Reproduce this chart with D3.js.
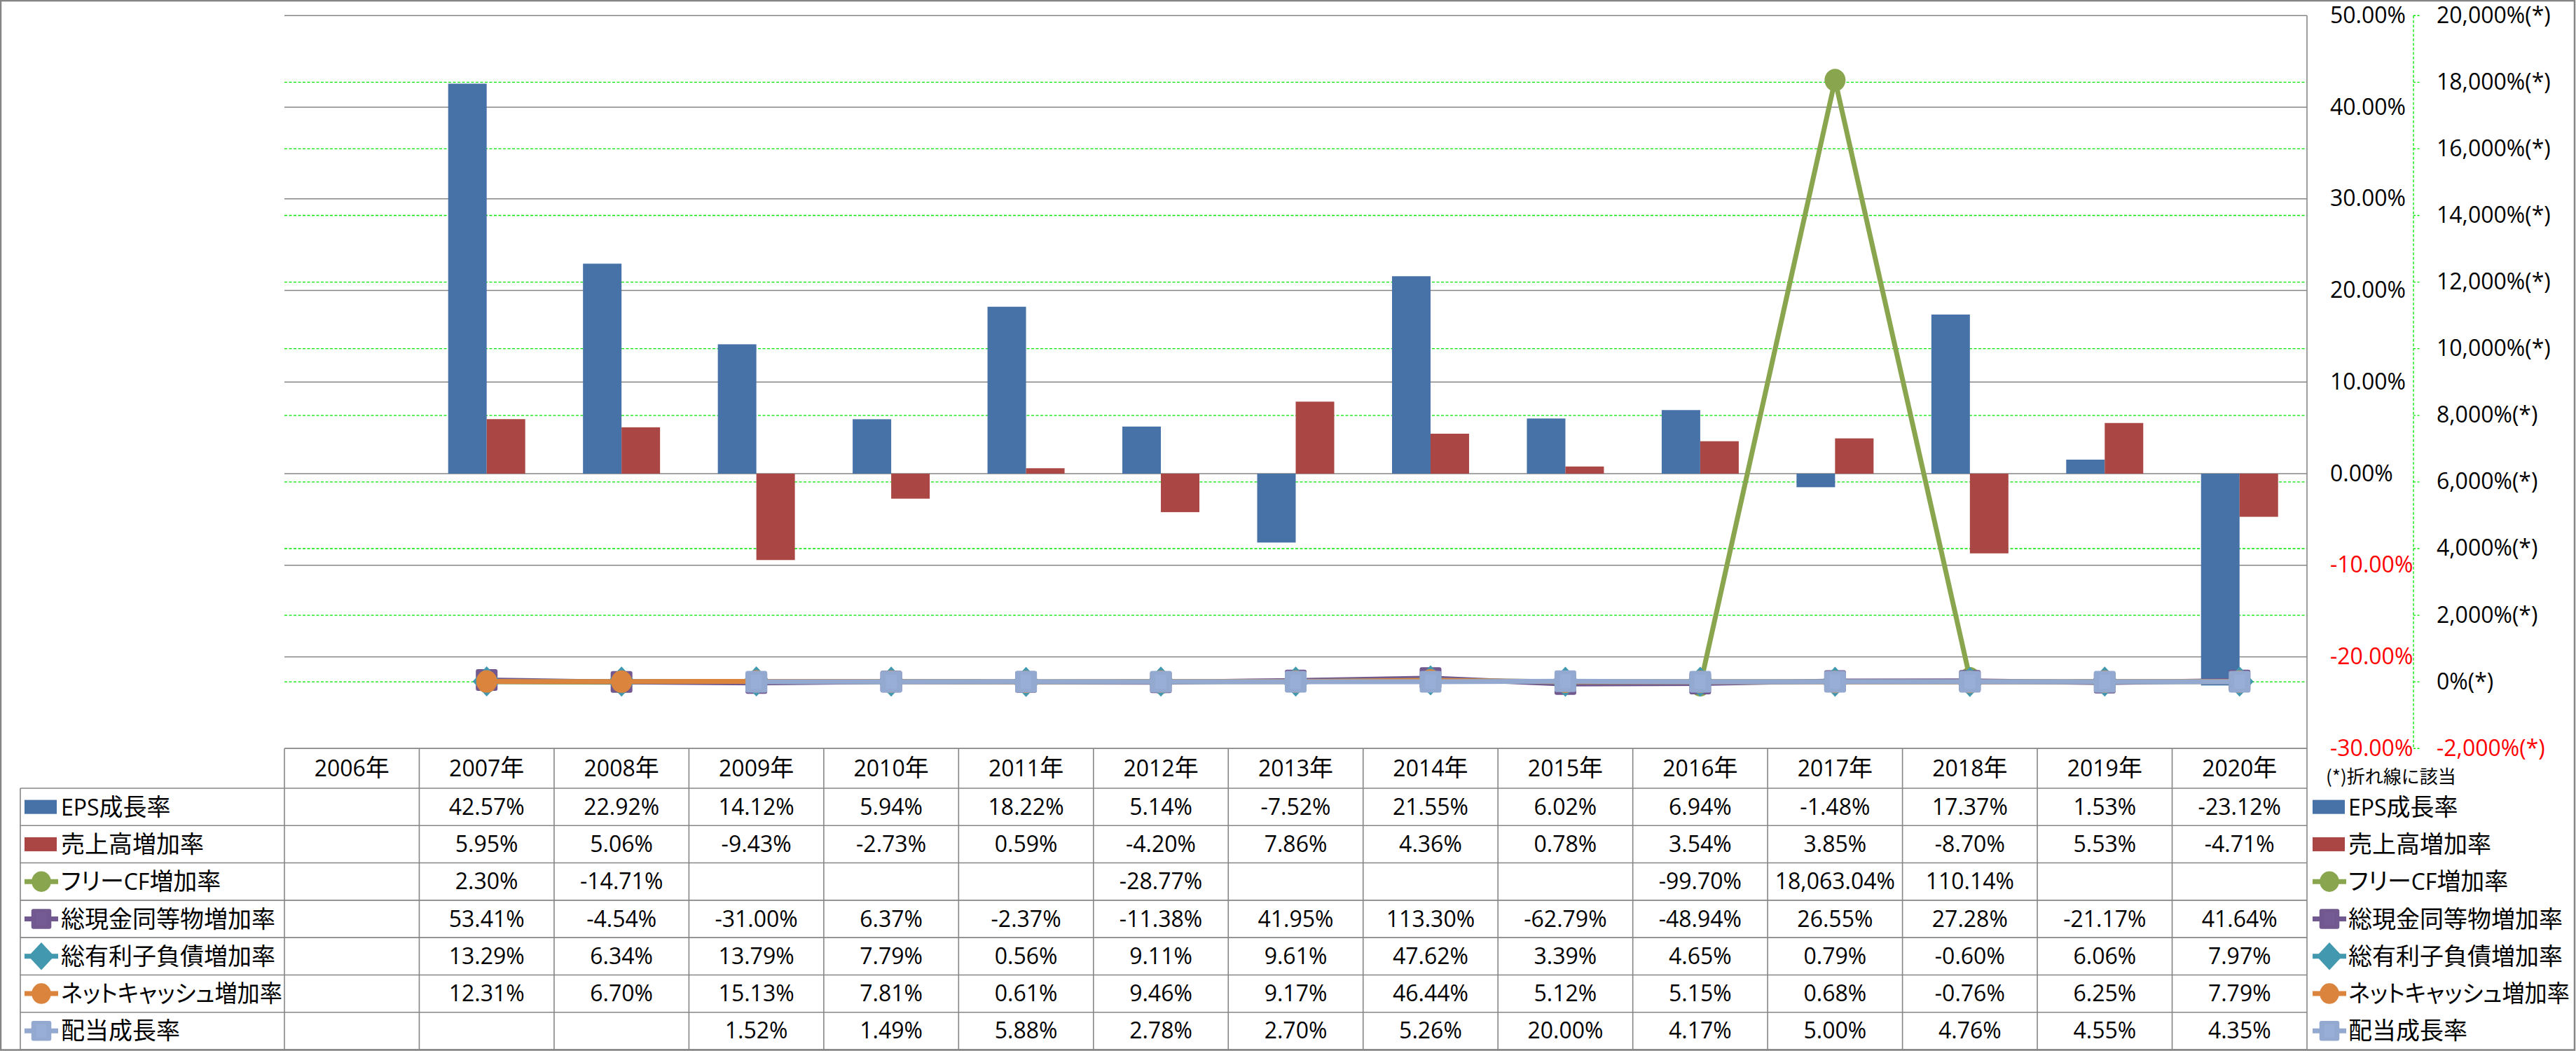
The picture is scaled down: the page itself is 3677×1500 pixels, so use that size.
<!DOCTYPE html>
<html><head><meta charset="utf-8">
<script src="https://cdn.jsdelivr.net/npm/d3@7"></script>
<style>
html,body{margin:0;padding:0;background:#fff;}
svg{display:block;}
</style></head>
<body>
<script>
// ---------- data ----------
const years = ['2006年','2007年','2008年','2009年','2010年','2011年','2012年','2013年','2014年','2015年','2016年','2017年','2018年','2019年','2020年'];
const epsGrowth   = [null, 42.57, 22.92, 14.12, 5.94, 18.22, 5.14, -7.52, 21.55, 6.02, 6.94, -1.48, 17.37, 1.53, -23.12];
const salesGrowth = [null, 5.95, 5.06, -9.43, -2.73, 0.59, -4.20, 7.86, 4.36, 0.78, 3.54, 3.85, -8.70, 5.53, -4.71];
const fcfGrowth   = [null, 2.30, -14.71, null, null, null, -28.77, null, null, null, -99.70, 18063.04, 110.14, null, null];
const cashGrowth  = [null, 53.41, -4.54, -31.00, 6.37, -2.37, -11.38, 41.95, 113.30, -62.79, -48.94, 26.55, 27.28, -21.17, 41.64];
const debtGrowth  = [null, 13.29, 6.34, 13.79, 7.79, 0.56, 9.11, 9.61, 47.62, 3.39, 4.65, 0.79, -0.60, 6.06, 7.97];
const netCashGrowth = [null, 12.31, 6.70, 15.13, 7.81, 0.61, 9.46, 9.17, 46.44, 5.12, 5.15, 0.68, -0.76, 6.25, 7.79];
const dividendGrowth = [null, null, null, 1.52, 1.49, 5.88, 2.78, 2.70, 5.26, 20.00, 4.17, 5.00, 4.76, 4.55, 4.35];

const primaryTicks = [50, 40, 30, 20, 10, 0, -10, -20, -30];
const secondaryTicks = [20000, 18000, 16000, 14000, 12000, 10000, 8000, 6000, 4000, 2000, 0, -2000];
const noteText = '(*)折れ線に該当';

const barSeries = [
  {name:'EPS成長率', values: epsGrowth, color:'#4672A8'},
  {name:'売上高増加率', values: salesGrowth, color:'#AA4643'}
];
const lineSeries = [
  {name:'フリーCF増加率', values: fcfGrowth, color:'#89A54E', marker:'circle'},
  {name:'総現金同等物増加率', values: cashGrowth, color:'#71588F', marker:'square'},
  {name:'総有利子負債増加率', values: debtGrowth, color:'#4198AF', marker:'diamond'},
  {name:'ネットキャッシュ増加率', values: netCashGrowth, color:'#DB843D', marker:'circle'},
  {name:'配当成長率', values: dividendGrowth, color:'#93A9CF', marker:'square'}
];

// ---------- layout ----------
const W = 3677, H = 1500;
const plotL = 406, plotR = 3293, plotT = 22.25, plotB = 1068.25;
const tableL = 29, headerB = 1125, tableB = 1498;
const LATIN = '"Open Sans", "Noto Sans CJK JP", sans-serif';
const CJK = '"Noto Sans CJK JP", sans-serif';
const latinSize = 32, cjkSize = 34;

const svg = d3.select('body').append('svg').attr('width', W).attr('height', H);

const x0 = d3.scaleBand().domain(years).range([plotL, plotR]).paddingInner(0.4286).paddingOuter(0.2143);
const x1 = d3.scaleBand().domain(barSeries.map(d=>d.name)).range([0, x0.bandwidth()]);
const y = d3.scaleLinear().domain([-30, 50]).range([plotB, plotT]);
const y2 = d3.scaleLinear().domain([-2000, 20000]).range([plotB, plotT]);
const step = x0.step();
const colStart = i => plotL + i*step;
const cx = name => x0(name) + x0.bandwidth()/2;

const locale = d3.formatLocale({decimal:'.', thousands:',', grouping:[3], currency:['',''], minus:'-'});
const fmt2 = locale.format(',.2f');
const fmtInt = locale.format(',');

// mixed-font text helper
function mixedText(g, str, x, yy, anchor, color){
  const t = g.append('text').attr('x', x).attr('y', yy).attr('text-anchor', anchor).attr('fill', color || '#000');
  const runs = str.match(/([\u3000-\u9fff\uff00-\uffef]+|[^\u3000-\u9fff\uff00-\uffef]+)/g) || [];
  runs.forEach(r => {
    const isCJK = /[\u3000-\u9fff\uff00-\uffef]/.test(r);
    t.append('tspan').text(r)
      .style('font-family', isCJK ? CJK : LATIN)
      .style('font-feature-settings', isCJK ? '"palt"' : 'normal')
      .style('font-size', (isCJK ? cjkSize : latinSize) + 'px');
  });
  return t;
}

// ---------- gridlines ----------
const grid = svg.append('g');
grid.selectAll('line.g1').data(primaryTicks).join('line')
  .attr('x1', plotL).attr('x2', plotR).attr('y1', d=>y(d)).attr('y2', d=>y(d))
  .attr('stroke', '#868686').attr('stroke-width', 1.6);
grid.selectAll('line.g2').data(secondaryTicks.filter(d=>d!==20000 && d!==-2000)).join('line')
  .attr('x1', plotL).attr('x2', plotR).attr('y1', d=>y2(d)).attr('y2', d=>y2(d))
  .attr('stroke', '#00E600').attr('stroke-width', 1.3).attr('stroke-dasharray', '4,2.5');

// ---------- bars ----------
const bars = svg.append('g');
barSeries.forEach(s => {
  bars.append('g').selectAll('rect').data(years.map((yr,i)=>({yr, v:s.values[i]})).filter(d=>d.v!=null)).join('rect')
    .attr('x', d => x0(d.yr) + x1(s.name))
    .attr('width', x1.bandwidth())
    .attr('y', d => y(Math.max(0, d.v)))
    .attr('height', d => Math.abs(y(d.v) - y(0)))
    .attr('fill', s.color);
});

// ---------- markers ----------
function drawMarker(g, type, px, py, color, scale){
  scale = scale || 1;
  if (type === 'circle') {
    g.append('ellipse').attr('cx', px).attr('cy', py).attr('rx', 15*scale).attr('ry', 16*scale).attr('fill', color);
  } else if (type === 'square') {
    const s = 31*scale;
    g.append('rect').attr('x', px - s/2).attr('y', py - s/2).attr('width', s).attr('height', s)
      .attr('rx', 3).attr('fill', color);
    g.append('rect').attr('x', px - s/4).attr('y', py - s/3).attr('width', s/2).attr('height', s*2/3)
      .attr('fill', d3.color(color).brighter(0.15)).attr('opacity', 0.6);
  } else if (type === 'diamond') {
    const hw = 20*scale, hh = 21.5*scale;
    g.append('path').attr('d', `M${px},${py-hh}L${px+hw},${py}L${px},${py+hh}L${px-hw},${py}Z`).attr('fill', color);
  }
}

// ---------- lines ----------
const lines = svg.append('g');
lineSeries.forEach(s => {
  const pts = years.map((yr,i)=>({yr, v:s.values[i]}));
  const line = d3.line().defined(d=>d.v!=null).x(d=>cx(d.yr)).y(d=>y2(d.v));
  const g = lines.append('g');
  g.append('path').datum(pts).attr('d', line).attr('fill','none')
    .attr('stroke', s.color).attr('stroke-width', 7).attr('stroke-linejoin','round');
  pts.filter(d=>d.v!=null).forEach(d => drawMarker(g, s.marker, cx(d.yr), y2(d.v), s.color));
});

// ---------- axes ----------
const ax = svg.append('g');
ax.append('line').attr('x1', plotR).attr('x2', plotR).attr('y1', plotT).attr('y2', tableB)
  .attr('stroke', '#868686').attr('stroke-width', 1.6);
primaryTicks.forEach(t => {
  ax.append('text').attr('x', 3326).attr('y', y(t) + 10.5)
    .style('font-family', LATIN).style('font-size', latinSize + 'px')
    .attr('fill', t < 0 ? '#FF0000' : '#000')
    .text(fmt2(t) + '%');
});
const ax2x = 3445;
ax.append('line').attr('x1', ax2x).attr('x2', ax2x).attr('y1', plotT).attr('y2', plotB)
  .attr('stroke', '#00E600').attr('stroke-width', 1.3).attr('stroke-dasharray', '4,2.5');
secondaryTicks.forEach(t => {
  ax.append('line').attr('x1', ax2x).attr('x2', ax2x + 11).attr('y1', y2(t)).attr('y2', y2(t))
    .attr('stroke', '#00E600').attr('stroke-width', 1.3).attr('stroke-dasharray', '3,2.5');
  ax.append('text').attr('x', 3478).attr('y', y2(t) + 10.5)
    .style('font-family', LATIN).style('font-size', latinSize + 'px')
    .attr('fill', t < 0 ? '#FF0000' : '#000')
    .text(fmtInt(t) + '%(*)');
});

// ---------- data table ----------
const tb = svg.append('g');
const allSeries = [
  ...barSeries.map(s=>({...s, kind:'bar'})),
  ...lineSeries.map(s=>({...s, kind:'line'}))
];
const rowH = (tableB - headerB) / allSeries.length;
const tableStroke = '#868686';
tb.append('line').attr('x1', plotL).attr('x2', plotR).attr('y1', plotB).attr('y2', plotB).attr('stroke', tableStroke).attr('stroke-width', 1.6);
for (let r = 0; r <= allSeries.length; r++) {
  const yy = headerB + r*rowH;
  tb.append('line').attr('x1', tableL).attr('x2', plotR).attr('y1', yy).attr('y2', yy)
    .attr('stroke', tableStroke).attr('stroke-width', 1.6);
}
tb.append('line').attr('x1', tableL).attr('x2', tableL).attr('y1', headerB).attr('y2', tableB).attr('stroke', tableStroke).attr('stroke-width', 1.6);
for (let i = 0; i < years.length; i++) {
  const xx = colStart(i);
  tb.append('line').attr('x1', xx).attr('x2', xx).attr('y1', plotB).attr('y2', tableB)
    .attr('stroke', tableStroke).attr('stroke-width', 1.6);
}
years.forEach((yr, i) => {
  mixedText(tb, yr, colStart(i) + step/2, (plotB + headerB)/2 + 11.5, 'middle');
});
const fmtCell = v => fmt2(v) + '%';
allSeries.forEach((s, r) => {
  const cyRow = headerB + r*rowH + rowH/2;
  s.values.forEach((v, i) => {
    if (v == null) return;
    tb.append('text').attr('x', colStart(i) + step/2).attr('y', cyRow + 11)
      .attr('text-anchor', 'middle')
      .style('font-family', LATIN).style('font-size', latinSize + 'px')
      .text(fmtCell(v));
  });
  [[35, 87], [3301, 3352]].forEach(([kx, tx]) => {
    if (s.kind === 'bar') {
      tb.append('rect').attr('x', kx).attr('y', cyRow - 10).attr('width', 46).attr('height', 20).attr('fill', s.color);
    } else {
      tb.append('line').attr('x1', kx).attr('x2', kx + 48).attr('y1', cyRow).attr('y2', cyRow)
        .attr('stroke', s.color).attr('stroke-width', 7);
      drawMarker(tb, s.marker, kx + 24, cyRow, s.color, 0.92);
    }
    const t = mixedText(tb, s.name, tx, cyRow + 12, 'start');
    const maxW = 316;
    const len = t.node().getComputedTextLength();
    if (len > maxW) {
      const k = maxW / len;
      t.attr('transform', `translate(${tx},0) scale(${k},1) translate(${-tx},0)`);
    }
  });
});
tb.append('text').attr('x', 3320).attr('y', 1118)
  .style('font-family', CJK).style('font-size', '26px').text(noteText);

// ---------- outer border ----------
svg.append('rect').attr('x', 1).attr('y', 1).attr('width', W - 3).attr('height', H - 2.5)
  .attr('fill', 'none').attr('stroke', '#868686').attr('stroke-width', 2.5);
</script>
</body></html>
